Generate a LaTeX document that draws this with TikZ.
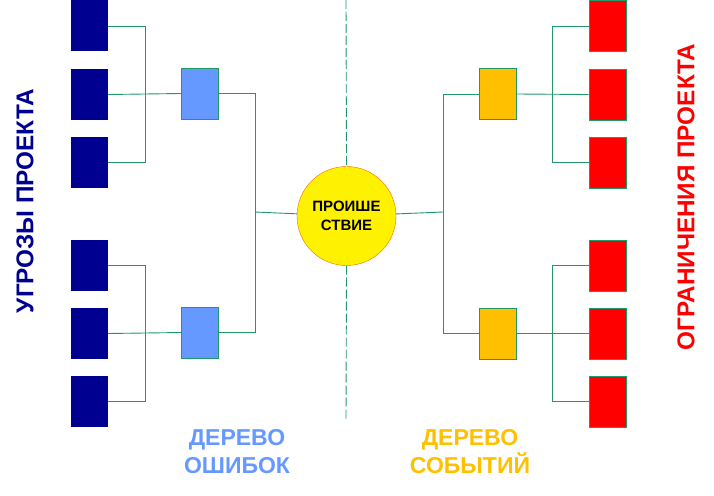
\documentclass[tikz,border=0pt]{standalone}
\usepackage{fontspec}
\setmainfont{Liberation Sans}
\definecolor{threat}{RGB}{0,0,144}
\definecolor{fault}{RGB}{102,153,255}
\definecolor{eventc}{RGB}{255,192,0}
\definecolor{limit}{RGB}{255,0,0}
\definecolor{linkc}{RGB}{32,152,104}
\tikzset{
  box/.style={rectangle,minimum width=37pt,minimum height=51pt,inner sep=0pt},
  threatbox/.style={box,fill=threat},
  faultbox/.style={box,fill=fault,draw=linkc,line width=1pt},
  eventbox/.style={box,fill=eventc,draw=linkc,line width=1pt},
  limitbox/.style={box,fill=limit,draw=linkc,line width=1pt},
  link/.style={linkc,line width=0.9pt},
  axisline/.style={linkc,line width=0.9pt,dash pattern=on 9pt off 3pt}
}
\begin{document}
\begin{tikzpicture}[x=1pt,y=-1pt]
  \useasboundingbox (0,0) rectangle (714,495);
  % threats and limits
  \foreach \i/\y in {1/26,2/94.5,3/162.5,4/265.5,5/333.5,6/401.5}{
    \node[threatbox] (t\i) at (89.5,\y) {};
    \node[limitbox] (l\i) at (607.5,\y) {};
  }
  \node[faultbox] (f1) at (200,93.5) {};
  \node[faultbox] (f2) at (200,332.5) {};
  \node[eventbox] (e1) at (497.5,94) {};
  \node[eventbox] (e2) at (497.5,333.5) {};
  \node[circle,fill=yellow,draw=orange!80!red,minimum size=99pt,inner sep=0pt,
        font=\bfseries\fontsize{15}{19}\selectfont,align=center] (ev) at (346.5,216) {ПРОИШЕ\\СТВИЕ};
  % junctions
  \coordinate (jl1) at (145,94);
  \coordinate (jl2) at (145,333);
  \coordinate (jm) at (255,212);
  \coordinate (jr) at (443,212);
  \coordinate (jr1) at (552,94);
  \coordinate (jr2) at (552,333);
  % fault tree
  \draw[link] (t1.east) -| (jl1);
  \draw[link] (t3.east) -| (jl1);
  \draw[link] (t2.east) -- (f1.west);
  \draw[link] (t4.east) -| (jl2);
  \draw[link] (t6.east) -| (jl2);
  \draw[link] (t5.east) -- (f2.west);
  \draw[link] (f1.east) -| (jm);
  \draw[link] (f2.east) -| (jm);
  \draw[link] (jm) -- (ev);
  % event tree
  \draw[link] (ev) -- (jr);
  \draw[link] (jr) |- (e1.west);
  \draw[link] (jr) |- (e2.west);
  \draw[link] (e1.east) -- (l2.west);
  \draw[link] (e2.east) -- (l5.west);
  \draw[link] (l1.west) -| (jr1);
  \draw[link] (l3.west) -| (jr1);
  \draw[link] (l4.west) -| (jr2);
  \draw[link] (l6.west) -| (jr2);
  % axis
  \draw[axisline] (346,0) -- (ev.north);
  \draw[axisline] (ev.south) -- (346,419);
  % titles
  \node[rotate=90,text=threat,font=\bfseries\fontsize{24.3}{24}\selectfont] (threats) at (25,201) {УГРОЗЫ ПРОЕКТА};
  \node[rotate=90,text=limit,font=\bfseries\fontsize{24.3}{24}\selectfont] (limits) at (686,197) {ОГРАНИЧЕНИЯ ПРОЕКТА};
  \node[text=fault,font=\bfseries\fontsize{23}{28}\selectfont,align=center] (faulttree) at (237,452) {ДЕРЕВО\\ОШИБОК};
  \node[text=eventc,font=\bfseries\fontsize{23}{28}\selectfont,align=center] (eventtree) at (470,452) {ДЕРЕВО\\СОБЫТИЙ};
\end{tikzpicture}
\end{document}
